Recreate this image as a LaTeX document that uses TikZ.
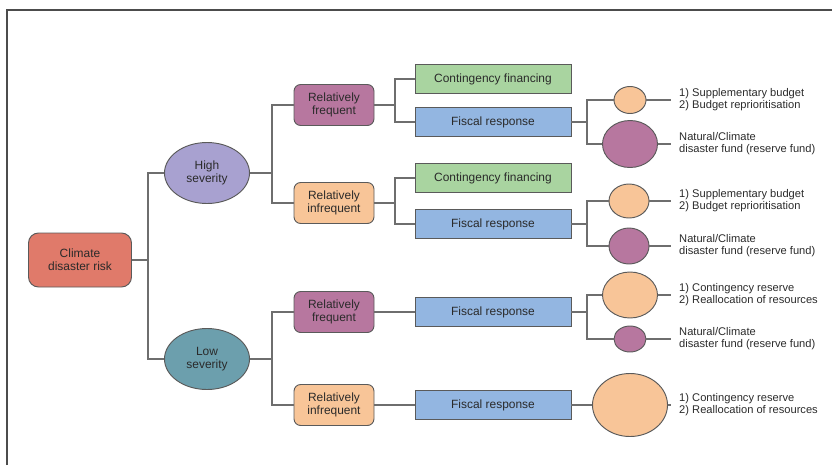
\documentclass[tikz,border=0pt]{standalone}
\usepackage{fontspec}
\setmainfont{Liberation Sans}
\usetikzlibrary{shapes.geometric}
\definecolor{riskred}{HTML}{E07A6A}
\definecolor{highlilac}{HTML}{A8A1D0}
\definecolor{lowteal}{HTML}{6C9FAD}
\definecolor{freqplum}{HTML}{B7779F}
\definecolor{rarepeach}{HTML}{F8C598}
\definecolor{fingreen}{HTML}{A9D4A0}
\definecolor{fiscblue}{HTML}{93B6E1}
\definecolor{edgegray}{HTML}{5A5A5A}
\definecolor{linkgray}{HTML}{6E6E6E}
\definecolor{inkgray}{HTML}{2A2A2A}
\tikzset{
  box/.style={draw=edgegray, line width=0.8pt, text=inkgray, align=center, inner sep=0pt,
    font=\fontsize{10.2}{10.8}\selectfont},
  riskbox/.style={box, rounded corners=0.3cm, fill=riskred, minimum width=3.09cm, minimum height=1.62cm},
  sevnode/.style={box, ellipse, minimum width=2.55cm, minimum height=1.83cm},
  freqbox/.style={box, rounded corners=0.2cm, minimum width=2.4cm, minimum height=1.23cm},
  planbox/.style={box, minimum width=4.68cm, minimum height=0.86cm},
  fundnode/.style={box, ellipse},
  note/.style={anchor=west, align=left, inner xsep=0.24cm, inner ysep=0pt, text=inkgray,
    font=\fontsize{9.5}{10.2}\selectfont},
  link/.style={draw=linkgray, line width=1.1pt}
}

\begin{document}
\begin{tikzpicture}[x=0.03cm, y=-0.03cm]
		%%%%% START %%%%%
		\useasboundingbox (0,0) rectangle (832,465);
		\draw[line width=1.5pt, color=black!70] (7,465) -- (7,10) -- (832,10);
		
		\coordinate (j1) at (148,0);
		\coordinate (j2) at (272,0);
		\coordinate (j3) at (395,0);
		\coordinate (j4) at (587,0);
		
		\node[riskbox] (risk) at (80,260) {Climate\\disaster risk};
		
		\node[sevnode, fill=highlilac] (high) at (207,173) {High\\severity};
		\node[sevnode, fill=lowteal] (low) at (207,359) {Low\\severity};
		
		\node[freqbox, fill=freqplum] (hf) at (334,105) {Relatively\\frequent};
		\node[freqbox, fill=rarepeach] (hi) at (334,203) {Relatively\\infrequent};
		\node[freqbox, fill=freqplum] (lf) at (334,312) {Relatively\\frequent};
		\node[freqbox, fill=rarepeach] (li) at (334,405) {Relatively\\infrequent};
		
		\node[planbox, fill=fingreen] (cf1) at (493,79) {Contingency financing};
		\node[planbox, fill=fiscblue] (fr1) at (493,122) {Fiscal response};
		\node[planbox, fill=fingreen] (cf2) at (493,178) {Contingency financing};
		\node[planbox, fill=fiscblue] (fr2) at (493,224) {Fiscal response};
		\node[planbox, fill=fiscblue] (fr3) at (493,312) {Fiscal response};
		\node[planbox, fill=fiscblue] (fr4) at (493,405) {Fiscal response};
		
		% circle sizes show the share of each source
		\node[fundnode, fill=rarepeach, minimum width=0.96cm, minimum height=0.81cm] (c1) at (630,100) {};
		\node[fundnode, fill=freqplum, minimum width=1.65cm, minimum height=1.41cm] (c2) at (630,144) {};
		\node[fundnode, fill=rarepeach, minimum width=1.2cm, minimum height=1.02cm] (c3) at (629,201) {};
		\node[fundnode, fill=freqplum, minimum width=1.2cm, minimum height=1.08cm] (c4) at (629,246) {};
		\node[fundnode, fill=rarepeach, minimum width=1.65cm, minimum height=1.38cm] (c5) at (630,295) {};
		\node[fundnode, fill=freqplum, minimum width=0.96cm, minimum height=0.78cm] (c6) at (630,339) {};
		\node[fundnode, fill=rarepeach, minimum width=2.25cm, minimum height=1.89cm] (c7) at (630,405) {};
		
		\node[note] (t1) at (671,100) {1) Supplementary budget\\2) Budget reprioritisation};
		\node[note] (t2) at (671,144) {Natural/Climate\\disaster fund (reserve fund)};
		\node[note] (t3) at (671,201) {1) Supplementary budget\\2) Budget reprioritisation};
		\node[note] (t4) at (671,246) {Natural/Climate\\disaster fund (reserve fund)};
		\node[note] (t5) at (671,295) {1) Contingency reserve\\2) Reallocation of resources};
		\node[note] (t6) at (671,339) {Natural/Climate\\disaster fund (reserve fund)};
		\node[note] (t7) at (671,405) {1) Contingency reserve\\2) Reallocation of resources};
		
		\draw[link] (risk.east) -- (risk.east -| j1) |- (high.west);
		\draw[link] (risk.east -| j1) |- (low.west);
		\draw[link] (high.east) -- (high.east -| j2) |- (hf.west);
		\draw[link] (high.east -| j2) |- (hi.west);
		\draw[link] (low.east) -- (low.east -| j2) |- (lf.west);
		\draw[link] (low.east -| j2) |- (li.west);
		
		\draw[link] (hf.east) -- (hf.east -| j3) |- (cf1.west);
		\draw[link] (hf.east -| j3) |- (fr1.west);
		\draw[link] (hi.east) -- (hi.east -| j3) |- (cf2.west);
		\draw[link] (hi.east -| j3) |- (fr2.west);
		\draw[link] (lf.east) -- (fr3.west);
		\draw[link] (li.east) -- (fr4.west);
		
		\draw[link] (fr1.east) -- (fr1.east -| j4) |- (c1.west);
		\draw[link] (fr1.east -| j4) |- (c2.west);
		\draw[link] (fr2.east) -- (fr2.east -| j4) |- (c3.west);
		\draw[link] (fr2.east -| j4) |- (c4.west);
		\draw[link] (fr3.east) -- (fr3.east -| j4) |- (c5.west);
		\draw[link] (fr3.east -| j4) |- (c6.west);
		\draw[link] (fr4.east) -- (c7.west);
		
		\foreach \i in {1,...,7}
			\draw[link] (c\i.east) -- (t\i.west);
		
		%%%%% END %%%%%
	\end{tikzpicture}
\end{document}
